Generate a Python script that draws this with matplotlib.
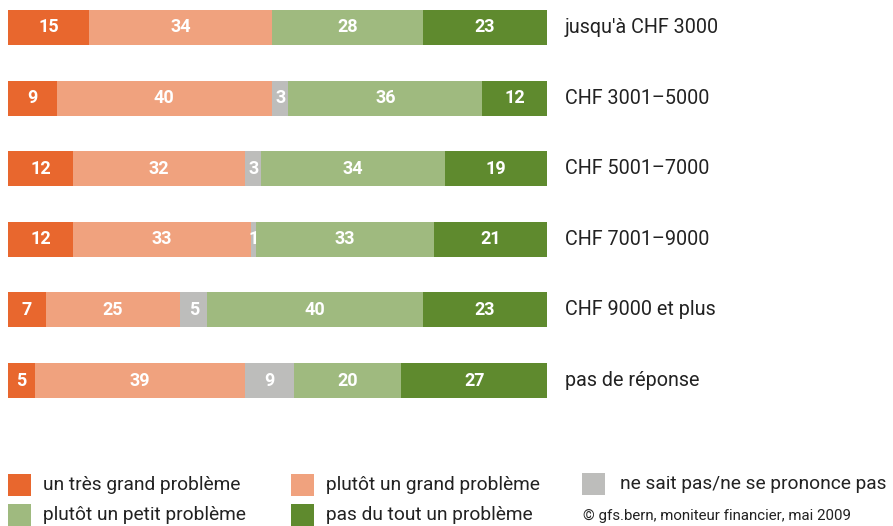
import matplotlib
matplotlib.use("Agg")
import matplotlib.pyplot as plt
from matplotlib.patches import Rectangle

plt.rcParams['font.family'] = ['Roboto', 'DejaVu Sans']

categories = ["jusqu'à CHF 3000", "CHF 3001\u20135000", "CHF 5001\u20137000",
              "CHF 7001\u20139000", "CHF 9000 et plus", "pas de réponse"]
series_names = ["un très grand problème", "plutôt un grand problème",
                "ne sait pas/ne se prononce pas", "plutôt un petit problème",
                "pas du tout un problème"]
tres_grand = [15, 9, 12, 12, 7, 5]
plutot_grand = [34, 40, 32, 33, 25, 39]
ne_sait_pas = [0, 3, 3, 1, 5, 9]
plutot_petit = [28, 36, 34, 33, 40, 20]
pas_du_tout = [23, 12, 19, 21, 23, 27]
series = [tres_grand, plutot_grand, ne_sait_pas, plutot_petit, pas_du_tout]
colors = ["#E8672E", "#F0A27E", "#BDBDBB", "#9FBA7F", "#5F8A2E"]
source = "© gfs.bern, moniteur financier, mai 2009"

W, H = 893, 526
fig = plt.figure(figsize=(W / 100, H / 100), dpi=100)
x0, x1 = 8, 547
ax = fig.add_axes([x0 / W, 0, (x1 - x0) / W, 1])
c0, step = 27.5, 70.6
ax.set_xlim(0, 100)
ax.set_ylim((H - c0) / step, -c0 / step)
ax.axis('off')

ypos = list(range(len(categories)))
left = [0] * len(categories)
for vals, col in zip(series, colors):
    ax.barh(ypos, vals, left=left, height=35 / step, color=col, linewidth=0)
    for i, v in enumerate(vals):
        if v > 0:
            ax.text(left[i] + v / 2, i, str(v), ha='center', va='center',
                    color='white', fontsize=13, fontweight='bold')
    left = [l + v for l, v in zip(left, vals)]

for i, cat in enumerate(categories):
    ax.text(103.3, i, cat, ha='left', va='center', fontsize=14.2, color='#222222',
            clip_on=False)

# legend
leg_pos = [(8, 485), (291, 485), (582, 484), (8, 515), (291, 515)]
for (lx, ly), name, col in zip(leg_pos, series_names, colors):
    fig.patches.append(Rectangle((lx / W, 1 - (ly + 11) / H), 23 / W, 22 / H,
                                 transform=fig.transFigure, color=col, linewidth=0))
    tx = lx + 35 if lx < 500 else lx + 38
    fig.text(tx / W, 1 - ly / H, name, ha='left', va='center',
             fontsize=13.8, color='#222222')
fig.text(583 / W, 1 - 516 / H, source, ha='left', va='center', fontsize=10.8,
         color='#222222')

fig.savefig("out.png", dpi=100)
